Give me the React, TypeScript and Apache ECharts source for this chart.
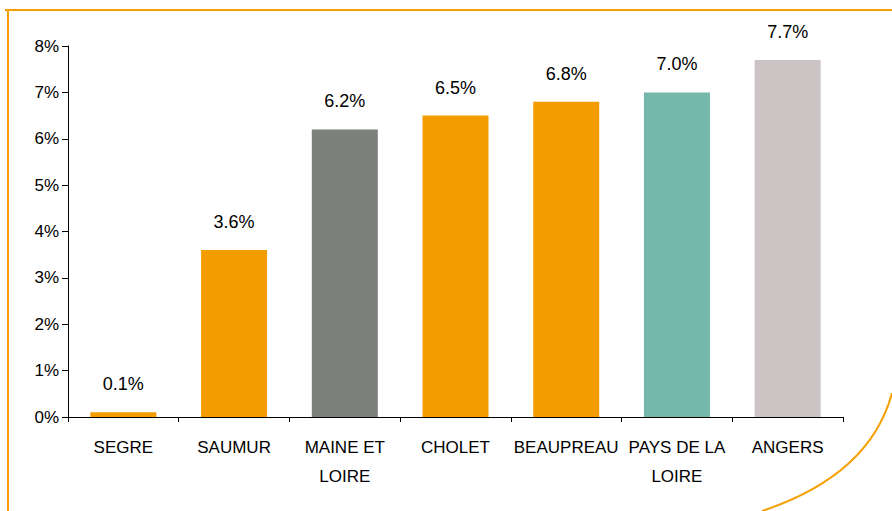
import React, { useEffect, useRef } from "react";
import * as echarts from "echarts";

const categories = ["SEGRE", "SAUMUR", "MAINE ET\nLOIRE", "CHOLET", "BEAUPREAU", "PAYS DE LA\nLOIRE", "ANGERS"];
const values = [0.1, 3.6, 6.2, 6.5, 6.8, 7.0, 7.7];
const barColors = ["#F39C00", "#F39C00", "#7C807D", "#F39C00", "#F39C00", "#73B8AA", "#CCC3C4"];
const yTicks = [0, 1, 2, 3, 4, 5, 6, 7, 8];

export default function App() {
  const ref = useRef<HTMLDivElement>(null);
  useEffect(() => {
    if (!ref.current) return;
    const chart = echarts.init(ref.current, null, { renderer: "svg" });
    const font = "'Liberation Sans', Arial, sans-serif";
    chart.setOption({
      animation: false,
      backgroundColor: "#ffffff",
      grid: { left: 68, right: 49, top: 46, bottom: 94, containLabel: false },
      xAxis: {
        type: "category",
        data: categories,
        axisLine: { lineStyle: { color: "#000", width: 1 } },
        axisTick: { show: true, length: 5, alignWithLabel: false, lineStyle: { color: "#000" } },
        axisLabel: {
          color: "#000",
          fontFamily: font,
          fontSize: 17,
          lineHeight: 29,
          margin: 16,
          interval: 0,
        },
      },
      yAxis: {
        type: "value",
        min: yTicks[0],
        max: yTicks[yTicks.length - 1],
        interval: 1,
        splitLine: { show: false },
        axisLine: { show: true, lineStyle: { color: "#000", width: 1 } },
        axisTick: { show: true, length: 6, lineStyle: { color: "#000" } },
        axisLabel: {
          color: "#000",
          fontFamily: font,
          fontSize: 17,
          margin: 9,
          formatter: (v: number) => `${v}%`,
        },
      },
      series: [
        {
          type: "bar",
          barWidth: 66,
          data: values.map((v, i) => ({ value: v, itemStyle: { color: barColors[i] } })),
          label: {
            show: true,
            position: "top",
            distance: 19,
            color: "#000",
            fontFamily: font,
            fontSize: 18,
            formatter: (p: any) => `${Number(p.value).toFixed(1)}%`,
          },
        },
      ],
      graphic: [
        {
          type: "line",
          shape: { x1: 5, y1: 10, x2: 892, y2: 10 },
          style: { stroke: "#F5A000", lineWidth: 2 },
          silent: true,
        },
        {
          type: "line",
          shape: { x1: 8, y1: 10, x2: 8, y2: 511 },
          style: { stroke: "#F5A000", lineWidth: 2 },
          silent: true,
        },
        {
          type: "bezierCurve",
          shape: { x1: 892, y1: 393, cpx1: 870, cpy1: 475, x2: 762, y2: 511 },
          style: { stroke: "#F5A000", lineWidth: 2, fill: "none" },
          silent: true,
        },
      ],
    });
    return () => chart.dispose();
  }, []);
  return <div ref={ref} style={{ width: 892, height: 511, position: "absolute", left: 0, top: 0 }} />;
}
